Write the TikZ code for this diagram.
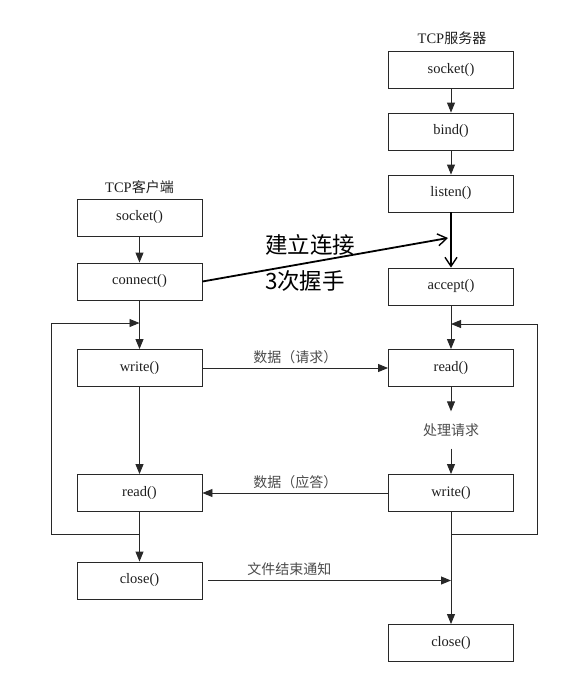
\documentclass[tikz,border=0pt]{standalone}
\usepackage{fontspec}
\setmainfont{Liberation Serif}
\newfontfamily\cjk{Noto Sans CJK SC}
\usetikzlibrary{arrows.meta}
\definecolor{ln}{RGB}{40,40,40}
\definecolor{tx}{RGB}{30,30,30}
\begin{document}
\begin{tikzpicture}[x=1pt,y=-1pt,
  box/.style={draw=ln, line width=0.9pt, minimum width=125pt, minimum height=37pt, inner sep=0pt, font=\fontsize{14.5}{16}\selectfont, text=tx},
  arr/.style={draw=ln, line width=0.9pt, -{Triangle[length=10pt,width=8pt]}},
  big/.style={draw=black, line width=1.8pt, -{Straight Barb[length=9pt,width=12pt,line width=1.4pt]}},
  lbl/.style={font=\cjk\fontsize{14}{16}\selectfont, text=tx!80, inner sep=1pt},
  ttl/.style={font=\fontsize{14.5}{16}\selectfont, text=tx}]
\useasboundingbox (0,0) rectangle (581,678);
% titles
\node[ttl] (tc) at (139.5,187) {TCP{\cjk\fontsize{14}{16}\selectfont 客户端}};
\node[ttl] (ts) at (452,38) {TCP{\cjk\fontsize{14}{16}\selectfont 服务器}};
% client boxes
\node[box] (cs) at (139.5,217.5) {socket()};
\node[box] (cc) at (139.5,281.5) {connect()};
\node[box] (cw) at (139.5,368) {write()};
\node[box] (cr) at (139.5,493) {read()};
\node[box] (ccl) at (139.5,580.5) {close()};
% server boxes
\node[box] (ss) at (451,70) {socket()};
\node[box] (sb) at (451,131.5) {bind()};
\node[box] (sl) at (451,193.5) {listen()};
\node[box] (sa) at (451,286.5) {accept()};
\node[box] (sr) at (451,368) {read()};
\node[box] (sw) at (451,493) {write()};
\node[box] (scl) at (451,643) {close()};
\node[lbl, inner ysep=12pt] (proc) at (451,430) {处理请求};
% coordinates
\coordinate (clin) at (139.5,323);
\coordinate (cljoin) at (139.5,534);
\coordinate (clA) at (51,534);
\coordinate (clB) at (51,323);
\coordinate (slin) at (451,324);
\coordinate (sljoin) at (451,534);
\coordinate (slA) at (537,534);
\coordinate (slB) at (537,324);
\coordinate (hs) at (448,238);
\coordinate (fin) at (451,580.5);
% client flow
\draw[arr] (cs) -- (cc);
\draw[arr] (cc) -- (cw);
\draw[arr] (cw) -- (cr);
\draw[arr] (cr) -- (ccl);
\draw[arr] (cljoin) -- (clA) -- (clB) -- (clin);
% server flow
\draw[arr] (ss) -- (sb);
\draw[arr] (sb) -- (sl);
\draw[big] (sl) -- (sa);
\draw[arr] (sa) -- (sr);
\draw[arr] (sr) -- (proc);
\draw[arr] (proc) -- (sw);
\draw[arr] (sw) -- (scl);
\draw[arr] (sljoin) -- (slA) -- (slB) -- (slin);
% exchanges
\draw[big] (cc.east) -- (hs);
\node[font=\cjk\fontsize{22.5}{25}\selectfont, text=black] (l1) at (310,245) {建立连接};
\node[font=\cjk\fontsize{22.5}{25}\selectfont, text=black] (l2) at (305,281) {3次握手};
\draw[arr] (cw) -- node[lbl, above=3pt] {数据（请求）} (sr);
\draw[arr] (sw) -- node[lbl, above=3pt] {数据（应答）} (cr);
\draw[arr, shorten <=6pt] (ccl.east) -- node[lbl, pos=0.35, above=3pt] {文件结束通知} (fin);
\end{tikzpicture}
\end{document}
